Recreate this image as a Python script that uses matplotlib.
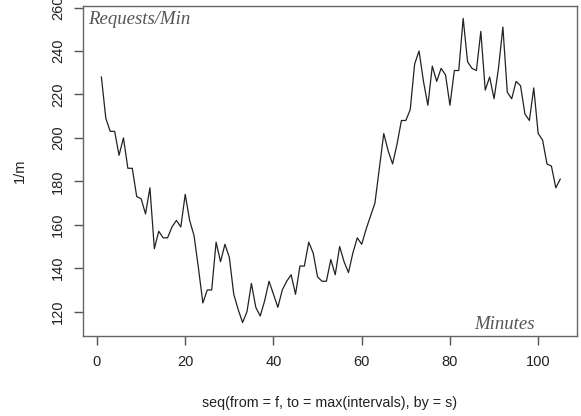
import numpy as np
import matplotlib.pyplot as plt

# requests per minute, one value per minute
minutes = np.arange(1, 106)
requests = np.array([
    228, 209, 203, 203, 192, 200, 186, 186, 173, 172,
    165, 177, 149, 157, 154, 154, 159, 162, 159, 174,
    162, 155, 140, 124, 130, 130, 152, 143, 151, 145,
    128, 121, 115, 120, 133, 122, 118, 125, 134, 128,
    122, 130, 134, 137, 128, 141, 141, 152, 147, 136,
    134, 134, 144, 137, 150, 143, 138, 147, 154, 151,
    158, 164, 170, 186, 202, 194, 188, 197, 208, 208,
    213, 234, 240, 226, 215, 233, 226, 232, 229, 215,
    231, 231, 255, 235, 232, 231, 249, 222, 228, 218,
    232, 251, 221, 218, 226, 224, 211, 208, 223, 202,
    199, 188, 187, 177, 181])
xticks = [0, 20, 40, 60, 80, 100]
yticks = [120, 140, 160, 180, 200, 220, 240, 260]

plt.rcParams['font.family'] = ['Liberation Sans', 'DejaVu Sans']

fig = plt.figure(figsize=(5.81, 4.16), dpi=100)
ax = fig.add_axes([83 / 581, 1 - 336 / 416, (577 - 83) / 581, (336 - 6) / 416])

ax.plot(minutes, requests, color='#222222', lw=0.9)

ax.set_xlim(-3.17, 108.8)
ax.set_ylim(108.8, 260.7)
ax.set_xticks(xticks)
ax.set_yticks(yticks)
ax.set_yticklabels([str(v) for v in yticks], rotation=90, va='center')

for s in ax.spines.values():
    s.set_color('#666666')
    s.set_linewidth(1.0)
ax.tick_params(colors='#555555', length=6.5, width=1.0, labelsize=10.5, labelcolor='#222222')
ax.tick_params(axis='x', pad=7.5)
ax.tick_params(axis='y', pad=6.5)

ax.set_xlabel('seq(from = f, to = max(intervals), by = s)', fontsize=10.3, color='#222222', labelpad=19)
ax.set_ylabel('1/m', fontsize=10.5, color='#222222', labelpad=17)

ax.text(0.01, 0.96, 'Requests/Min', transform=ax.transAxes, fontsize=13.5,
        family='Liberation Serif', style='italic', color='#555555', ha='left', va='center')
ax.text(0.915, 0.035, 'Minutes', transform=ax.transAxes, fontsize=13.5,
        family='Liberation Serif', style='italic', color='#555555', ha='right', va='center')

fig.savefig('out.png', dpi=100)
